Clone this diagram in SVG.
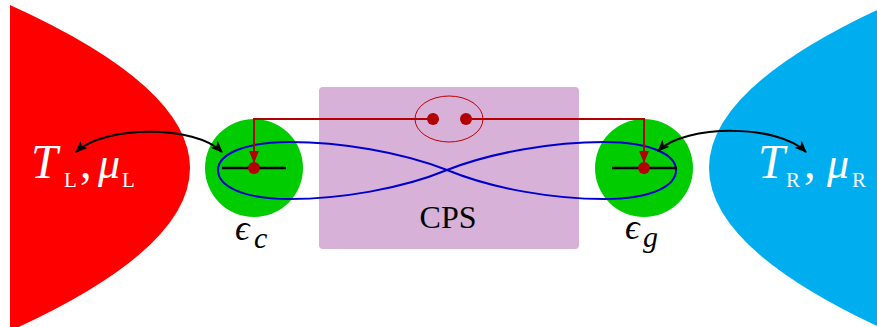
<svg xmlns="http://www.w3.org/2000/svg" width="877" height="327" viewBox="0 0 877 327">
<style>
text{font-family:'Liberation Serif','Times New Roman','DejaVu Serif',serif;}
.math{font-style:italic;}
.up{font-style:normal;}
.white{fill:#ffffff;}
.blk{fill:#000000;}
.dotline{stroke:#000;stroke-width:2.5;fill:none;}
.dot{fill:#b30000;}
.arc{stroke:#000;stroke-width:2;fill:none;marker-start:url(#ah);marker-end:url(#ah);}
.red{stroke:#b30000;stroke-width:2;fill:none;}
</style>
<defs>
<marker id="ah" viewBox="0 0 12 10" refX="11" refY="5" markerWidth="12" markerHeight="10" markerUnits="userSpaceOnUse" orient="auto-start-reverse">
<path d="M0,0 L12,5 L0,10 L3,5 Z" fill="#000"/>
</marker>
<marker id="rah" viewBox="0 0 10 12" refX="5" refY="11" markerWidth="10" markerHeight="12" markerUnits="userSpaceOnUse" orient="0">
<path d="M0,0 L10,0 L5,12 Z" fill="#b30000"/>
</marker>
</defs>
<g id="leadL">
<path d="M10,5 Q370,168 10,331 Z" fill="#ff0000"/>
<text class="math white" x="31" y="178" font-size="48">T</text>
<text class="up white" x="64" y="187" font-size="21">L</text>
<text class="up white" x="80" y="178" font-size="46">,</text>
<text class="math white" x="98" y="178" font-size="44">μ</text>
<text class="up white" x="122" y="187" font-size="21">L</text>
</g>
<g id="leadR">
<path d="M877,10 Q541,168 877,326 Z" fill="#00aeef"/>
<text class="math white" x="758" y="178" font-size="48">T</text>
<text class="up white" x="786" y="187" font-size="21">R</text>
<text class="up white" x="804" y="178" font-size="46">,</text>
<text class="math white" x="827" y="178" font-size="44">μ</text>
<text class="up white" x="852" y="187" font-size="21">R</text>
</g>
<g id="cps">
<rect x="319" y="87" width="260" height="162" rx="4" fill="#d8b1d9"/>
<text class="up blk" x="448" y="228" font-size="32" text-anchor="middle">CPS</text>
</g>
<g id="dotC">
<circle cx="254" cy="168" r="49" fill="#00cc00"/>
<text class="math blk" x="235" y="240" font-size="36">ϵ</text>
<text class="math blk" x="254" y="248" font-size="30">c</text>
</g>
<g id="dotG">
<circle cx="644" cy="168" r="49" fill="#00cc00"/>
<text class="math blk" x="625" y="239" font-size="36">ϵ</text>
<text class="math blk" x="643" y="247" font-size="30">g</text>
</g>
<g id="connectors">
<path d="M447,170 C401,152 340,142 290,142 C240,142 218,156 218,170 C218,185 240,199 290,199 C340,199 401,189 447,170 C493,152 554,142 604,142 C654,142 676,156 676,170 C676,185 654,199 604,199 C554,199 493,189 447,170 Z" fill="none" stroke="#0000cc" stroke-width="2"/>
<line class="dotline" x1="222" y1="168" x2="286" y2="168"/>
<line class="dotline" x1="612" y1="168" x2="677" y2="168"/>
<path class="red" d="M433,119 H254 V162" marker-end="url(#rah)"/>
<path class="red" d="M466,119 H644 V162" marker-end="url(#rah)"/>
<circle class="dot" cx="254" cy="168" r="6"/>
<circle class="dot" cx="644" cy="168" r="6"/>
<ellipse cx="449" cy="119" rx="34" ry="23" fill="none" stroke="#c00000" stroke-width="1"/>
<circle class="dot" cx="433" cy="119" r="6"/>
<circle class="dot" cx="466" cy="119" r="6"/>
<path class="arc" d="M222,152 C195,125 105,125 76,152"/>
<path class="arc" d="M658,151 C686,124 778,124 806,152"/>
</g>
</svg>
